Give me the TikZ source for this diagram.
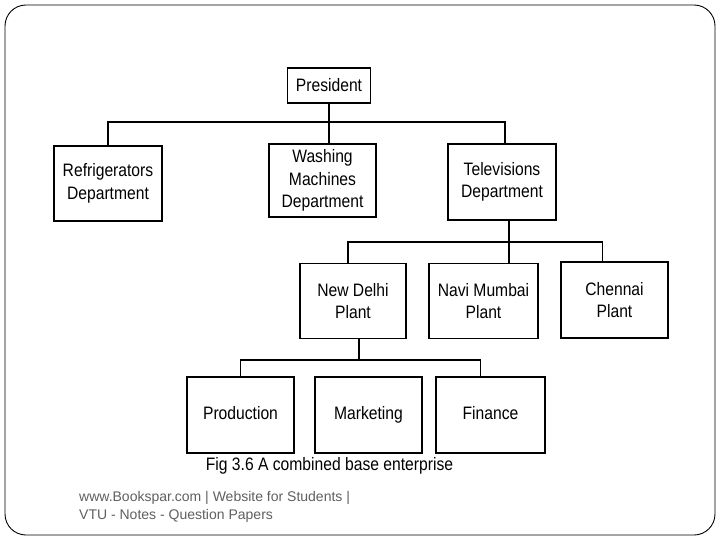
\documentclass[tikz,border=0pt]{standalone}
\usepackage{fontspec}
\setmainfont{Liberation Sans}[FakeStretch=0.87]
\newfontfamily\footfont{Liberation Sans}
\usetikzlibrary{positioning, calc}
\definecolor{footgray}{RGB}{95,95,95}

\begin{document}
\begin{tikzpicture}[x=1pt, y=-1pt,
        unit/.style={draw, line width=1.8pt, align=center, inner sep=0pt,
            minimum width=107pt, minimum height=75pt,
            font=\fontsize{18}{22.5}\selectfont},
        func/.style={unit, minimum height=76pt, text height=13pt, text depth=5pt},
        link/.style={line width=1.6pt}]
        \useasboundingbox (0,0) rectangle (720,540);
        \draw[line width=0.9pt, rounded corners=21pt] (5,5) rectangle (715,535);
        \node[unit, minimum width=83pt, minimum height=35pt] (pres) at (329,85.5) {President};
        \node[unit, minimum width=108pt] (refr) at (108,183.5) {Refrigerators\\Department};
        \node[unit, minimum height=73pt] (wash) at (322.5,180.5) {Washing\\Machines\\Department};
        \node[unit, minimum width=108pt, minimum height=76pt] (tv) at (502,182) {Televisions\\Department};
        \node[unit, minimum width=106pt] (delhi) at (353,301) {New Delhi\\Plant};
        \node[unit, minimum width=109pt] (mumbai) at (483.5,301) {Navi Mumbai\\Plant};
        \node[unit, minimum height=76pt] (chennai) at (614.5,300) {Chennai\\Plant};
        \node[func] (prod) at (240.5,415) {Production};
        \node[func] (mkt) at (368.5,415) {Marketing};
        \node[func, minimum width=109pt] (fin) at (490.5,415) {Finance};
        % forks below each parent
        \coordinate (topfork) at ($(pres.south)+(0,18)$);
        \coordinate (plantfork) at ($(tv.south)+(7,21)$);
        \coordinate (funcfork) at ($(delhi.south)+(6,20.5)$);
        \draw[link] (pres.south) -- (pres.south |- wash.north);
        \draw[link] (refr.north) |- (topfork) -| ([xshift=3pt]tv.north);
        \draw[link] ([xshift=7pt]tv.south) -- ([xshift=7pt]tv.south |- mumbai.north);
        \draw[link] ([xshift=-5pt]delhi.north) |- (plantfork) -| ([xshift=-12pt]chennai.north);
        \draw[link] ([xshift=6pt]delhi.south) -- (funcfork);
        \draw[link] (prod.north) |- (funcfork) -| ([xshift=-10pt]fin.north);
        % \draw[link] (funcfork) -- (mkt.north);
        \node[font=\fontsize{18}{21}\selectfont] (caption) at (329.5,466) {Fig 3.6 A combined base enterprise};
        \node[anchor=west, align=left, text=footgray, inner sep=0pt,
            font=\footfont\fontsize{14}{17.5}\selectfont] (foot) at (79,507)
            {www.Bookspar.com | Website for Students |\\VTU - Notes - Question Papers};
    \end{tikzpicture}
\end{document}
